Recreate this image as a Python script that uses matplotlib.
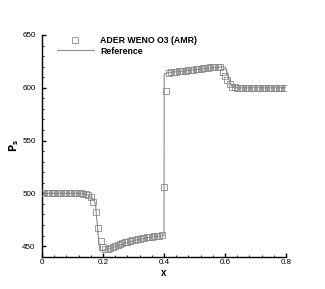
import numpy as np
import matplotlib
matplotlib.use("Agg")
import matplotlib.pyplot as plt
from matplotlib.ticker import MultipleLocator

# Numerical solution (ADER WENO O3, AMR) sampled on a uniform grid
amr_p = [500.0] * 17 + [
    499.8, 499.5, 498.5, 496.5, 492.0, 482.0, 467.0, 455.0, 449.0, 447.0,
    447.5, 448.5, 449.5, 450.5, 451.3, 452.0, 452.8, 453.5, 454.2, 454.8,
    455.4, 456.0, 456.5, 457.0, 457.5, 457.9, 458.3, 458.7, 459.0, 459.3,
    459.6, 459.9, 460.2, 506.0, 597.0, 613.5, 614.5, 614.8, 615.1, 615.4,
    615.7, 616.0, 616.3, 616.6, 616.9, 617.2, 617.5, 617.8, 618.1, 618.4,
    618.7, 619.0, 619.3, 619.6, 619.9, 620.0, 620.0, 615.0, 611.5, 607.0,
    603.5, 601.0, 600.4, 600.1, 600.0, 600.0, 600.0, 600.0, 600.0, 600.0,
    600.0, 600.0, 600.0, 600.0, 600.0, 600.0, 600.0, 600.0, 600.0, 600.0,
    600.0, 600.0, 600.0, 600.0,
]
amr_x = np.linspace(0.0, 0.8, len(amr_p))

# Reference solution
ref_x = [0.0, 0.12, 0.14, 0.155, 0.165, 0.172, 0.176, 0.18, 0.184, 0.188,
         0.19, 0.2, 0.22, 0.25, 0.28, 0.31, 0.34, 0.37, 0.4, 0.401,
         0.41, 0.45, 0.5, 0.55, 0.59, 0.6, 0.605, 0.61, 0.615, 0.62,
         0.625, 0.63, 0.64, 0.8]
ref_p = [500.0, 500.0, 499.5, 498.0, 496.0, 493.0, 488.0, 475.0, 462.0, 450.0,
         445.5, 446.0, 447.5, 450.5, 453.5, 455.8, 457.6, 459.0, 460.0, 613.0,
         614.0, 615.5, 617.0, 618.5, 619.8, 619.5, 617.0, 611.0, 606.0, 602.5,
         601.0, 600.3, 600.0, 600.0]

x_ticks = [0, 0.2, 0.4, 0.6, 0.8]
y_ticks = [450, 500, 550, 600, 650]

plt.rcParams['font.family'] = ['Liberation Sans', 'DejaVu Sans']

fig = plt.figure(figsize=(3.25, 2.89), dpi=100)
ax = fig.add_axes([0.129, 0.112, 0.751, 0.767])

ax.plot(ref_x, ref_p, color='#8c8c8c', lw=0.8, label='Reference', zorder=2)
ax.plot(amr_x, amr_p, ls='none', marker='s', ms=4.4, mfc='none',
        mec='#8a8a8a', mew=0.6, label='ADER WENO O3 (AMR)', zorder=3)

ax.set_xlim(0, 0.8)
ax.set_ylim(440, 650)
ax.set_xticks(x_ticks)
ax.set_xticklabels(['0', '0.2', '0.4', '0.6', '0.8'])
ax.set_yticks(y_ticks)
ax.xaxis.set_minor_locator(MultipleLocator(0.04))
ax.yaxis.set_minor_locator(MultipleLocator(10))

for s in ['top', 'right']:
    ax.spines[s].set_visible(False)
for s in ['left', 'bottom']:
    ax.spines[s].set_linewidth(1.0)

ax.tick_params(which='major', direction='in', length=3, width=1.0,
               labelsize=5.8)
ax.tick_params(axis='y', which='major', pad=4.5)
ax.tick_params(axis='x', which='major', pad=2)
ax.tick_params(which='minor', direction='in', length=1.6, width=0.6)

ax.set_xlabel('x', fontsize=7, fontweight='bold', labelpad=1)
ax.set_ylabel(r'$\mathbf{P_s}$', fontsize=7, labelpad=1)

handles, labels = ax.get_legend_handles_labels()
leg = ax.legend(handles[::-1], labels[::-1], loc='upper left',
                bbox_to_anchor=(0.03, 1.03), frameon=False,
                prop={'size': 6.3, 'weight': 'bold'}, handlelength=4.2,
                handletextpad=0.75, labelspacing=0.15)

fig.savefig('out.png', dpi=100)
